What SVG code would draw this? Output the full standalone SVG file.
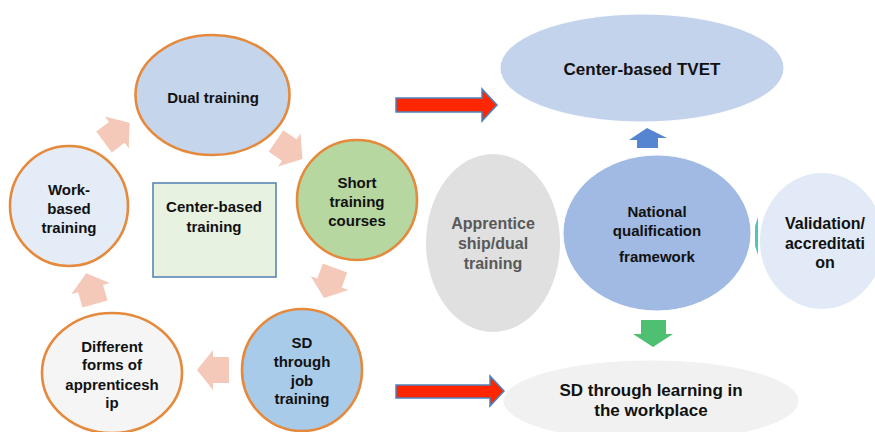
<svg xmlns="http://www.w3.org/2000/svg" width="875" height="432" viewBox="0 0 875 432">
<defs>
<style>
.t{font-family:"Liberation Sans",Arial,sans-serif;font-weight:bold;fill:#111;text-anchor:middle}
.s15{font-size:15px}
.s16{font-size:16px}
.s17{font-size:17px}
.oc{stroke:#E58A3C;stroke-width:2.6}
.pink{fill:#F5C9B9}
.red{fill:#FF2600;stroke:#4F81BD;stroke-width:1.5}
</style>
<path id="pa" d="M0,-13 L16,-13 L16,-20 L32,0 L16,20 L16,13 L0,13 Z"/>
</defs>
<rect width="875" height="432" fill="#fff"/>

<g id="connectors">
<use href="#pa" class="pink" transform="translate(104,142) rotate(-37)"/>
<use href="#pa" class="pink" transform="translate(276,141) rotate(34)"/>
<use href="#pa" class="pink" transform="translate(335,268) rotate(110)"/>
<use href="#pa" class="pink" transform="translate(229,370) rotate(180)"/>
<use href="#pa" class="pink" transform="translate(95,304) rotate(-106)"/>
<polygon class="red" points="396,98 482,98 482,89 497,105 482,121 482,112 396,112"/>
<polygon class="red" points="396,385 490,385 490,376 504,391 490,406 490,398 396,398"/>
<polygon fill="#5585D0" points="637,148 637,140 629,140 647,128 667,138 658,138 658,148"/>
<polygon fill="#4FBF71" points="641,320 666,320 666,334 673,334 653,347 633,334 641,334"/>
<polygon fill="#4CC7C0" points="755,226 758,217 758,255 755,246"/>
</g>

<g id="center-tvet">
<ellipse cx="642" cy="68" rx="142" ry="54" fill="#C3D3EB" stroke="#fff" stroke-width="1"/>
<text class="t s17" x="642" y="75">Center-based TVET</text>
</g>

<g id="apprenticeship">
<ellipse cx="493" cy="243" rx="67" ry="89" fill="#E0E0E0"/>
<text class="t s16" x="493" y="229" fill="#595959" style="fill:#595959">Apprentice</text>
<text class="t s16" x="493" y="249" style="fill:#595959">ship/dual</text>
<text class="t s16" x="493" y="269" style="fill:#595959">training</text>
</g>

<g id="validation">
<ellipse cx="822" cy="241" rx="62" ry="68" fill="#E1EAF6"/>
<text class="t s16" x="825" y="229">Validation/</text>
<text class="t s16" x="825" y="249">accreditati</text>
<text class="t s16" x="825" y="268">on</text>
</g>

<g id="national">
<ellipse cx="657" cy="233" rx="94" ry="78" fill="#A0BAE3" stroke="#fff" stroke-width="1"/>
<text class="t s15" x="657" y="217">National</text>
<text class="t s15" x="657" y="236">qualification</text>
<text class="t s15" x="657" y="262">framework</text>
</g>

<g id="sd-workplace">
<ellipse cx="651" cy="401" rx="148" ry="41" fill="#F1F1F1" stroke="#fff" stroke-width="1"/>
<text class="t s17" x="651" y="396">SD through learning in</text>
<text class="t s17" x="651" y="416">the workplace</text>
</g>

<g id="dual">
<ellipse class="oc" cx="212.5" cy="95" rx="77" ry="60" fill="#C5D5EC"/>
<text class="t s15" x="213" y="103">Dual training</text>
</g>

<g id="work-based">
<ellipse class="oc" cx="69" cy="206" rx="59" ry="60" fill="#E3ECF7"/>
<text class="t s15" x="69" y="195">Work-</text>
<text class="t s15" x="69" y="214">based</text>
<text class="t s15" x="69" y="233">training</text>
</g>

<g id="center-based">
<rect x="153" y="183" width="123" height="94" fill="#E8F2E1" stroke="#5B86B5" stroke-width="1.6"/>
<text class="t s15" x="214" y="212">Center-based</text>
<text class="t s15" x="214" y="232">training</text>
</g>

<g id="short">
<ellipse class="oc" cx="357" cy="200" rx="60" ry="60" fill="#B6D7A0"/>
<text class="t s15" x="357" y="188">Short</text>
<text class="t s15" x="357" y="207">training</text>
<text class="t s15" x="357" y="226">courses</text>
</g>

<g id="sd-job">
<ellipse class="oc" cx="302" cy="370" rx="60" ry="61" fill="#A9CBEA"/>
<text class="t s15" x="302" y="348">SD</text>
<text class="t s15" x="302" y="367">through</text>
<text class="t s15" x="302" y="386">job</text>
<text class="t s15" x="302" y="404">training</text>
</g>

<g id="different">
<ellipse class="oc" cx="112" cy="373" rx="70" ry="60" fill="#F5F5F5"/>
<text class="t s15" x="112" y="352">Different</text>
<text class="t s15" x="112" y="370">forms of</text>
<text class="t s15" x="112" y="390">apprenticesh</text>
<text class="t s15" x="112" y="408">ip</text>
</g>
</svg>
